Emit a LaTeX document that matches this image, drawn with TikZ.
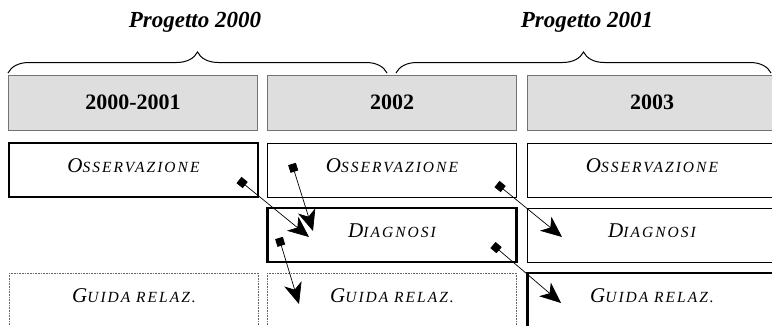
\documentclass[tikz,border=0pt]{standalone}
\usepackage{fontspec}
\setmainfont{Liberation Serif}
\usetikzlibrary{arrows.meta,decorations.pathreplacing}
\newcommand{\fsc}[2]{{\fontsize{21}{21}\selectfont #1}{\fontsize{15.5}{16}\selectfont\addfontfeatures{LetterSpace=13}#2}}

\begin{document}
\begin{tikzpicture}[x=1pt,y=-1pt,
  yearbox/.style={draw=black!55,fill=black!13,line width=0.8pt,minimum width=249pt,
    minimum height=55pt,inner sep=0pt,font=\fontsize{22}{22}\selectfont\bfseries},
  cellbox/.style={draw=black,line width=0.7pt,minimum width=249pt,minimum height=54pt,
    inner sep=0pt,font=\itshape},
  thickbox/.style={cellbox,line width=2.4pt},
  dotbox/.style={cellbox,draw=black!60,line width=0.6pt,densely dotted},
  txt/.style={anchor=center,inner sep=0pt},
  link/.style={line width=0.7pt,{Square[length=8pt,width=8pt]}-{Stealth[length=21pt,width=18pt,inset=6pt]}},
  brc/.style={line width=1pt,decorate,decoration={brace,amplitude=21pt}}]
\useasboundingbox (0,0) rectangle (772,325);
\clip (0,0) rectangle (772,325);

% braces
\draw[brc] (8,73) -- (387,73);
\draw[brc] (396,73) -- (771,73);
\node (p1) at (195,22) {\fontsize{23}{23}\selectfont\itshape\bfseries Progetto 2000};
\node (p2) at (587,22) {\fontsize{23}{23}\selectfont\itshape\bfseries Progetto 2001};

% years
\node[yearbox] (y1) at (133,102.5) {2000-2001};
\node[yearbox] (y2) at (392,102.5) {2002};
\node[yearbox] (y3) at (652,102.5) {2003};

% cells
\node[thickbox] (o1) at (133.5,170) {};
\node[cellbox] (o2) at (392,170) {};
\node[cellbox] (o3) at (652,170) {};
\node[thickbox] (d2) at (392,235) {};
\node[cellbox] (d3) at (652,235) {};
\node[dotbox] (g1) at (134,300) {};
\node[dotbox] (g2) at (392,300) {};
\node[thickbox] (g3) at (652,300) {};
\foreach \n/\a/\b in {o1/O/SSERVAZIONE,o2/O/SSERVAZIONE,o3/O/SSERVAZIONE,
    d2/D/IAGNOSI,d3/D/IAGNOSI,g1/G/UIDA RELAZ.,g2/G/UIDA RELAZ.,g3/G/UIDA RELAZ.}
  \node[txt,font=\itshape] (t\n) at ([yshift=4pt]\n.center) {\fsc{\a}{\b}};

% links
\coordinate (a1) at (239,180);  \coordinate (b1) at (309,237);
\coordinate (a2) at (292,164);  \coordinate (b2) at (313,231);
\coordinate (a3) at (279,238);  \coordinate (b3) at (299,304);
\coordinate (a4) at (497,184);  \coordinate (b4) at (562,237);
\coordinate (a5) at (493,245);  \coordinate (b5) at (561,303);
\foreach \s/\e in {a1/b1,a2/b2,a3/b3,a4/b4,a5/b5}
  \draw[link] (\s) -- (\e);
\end{tikzpicture}
\end{document}
